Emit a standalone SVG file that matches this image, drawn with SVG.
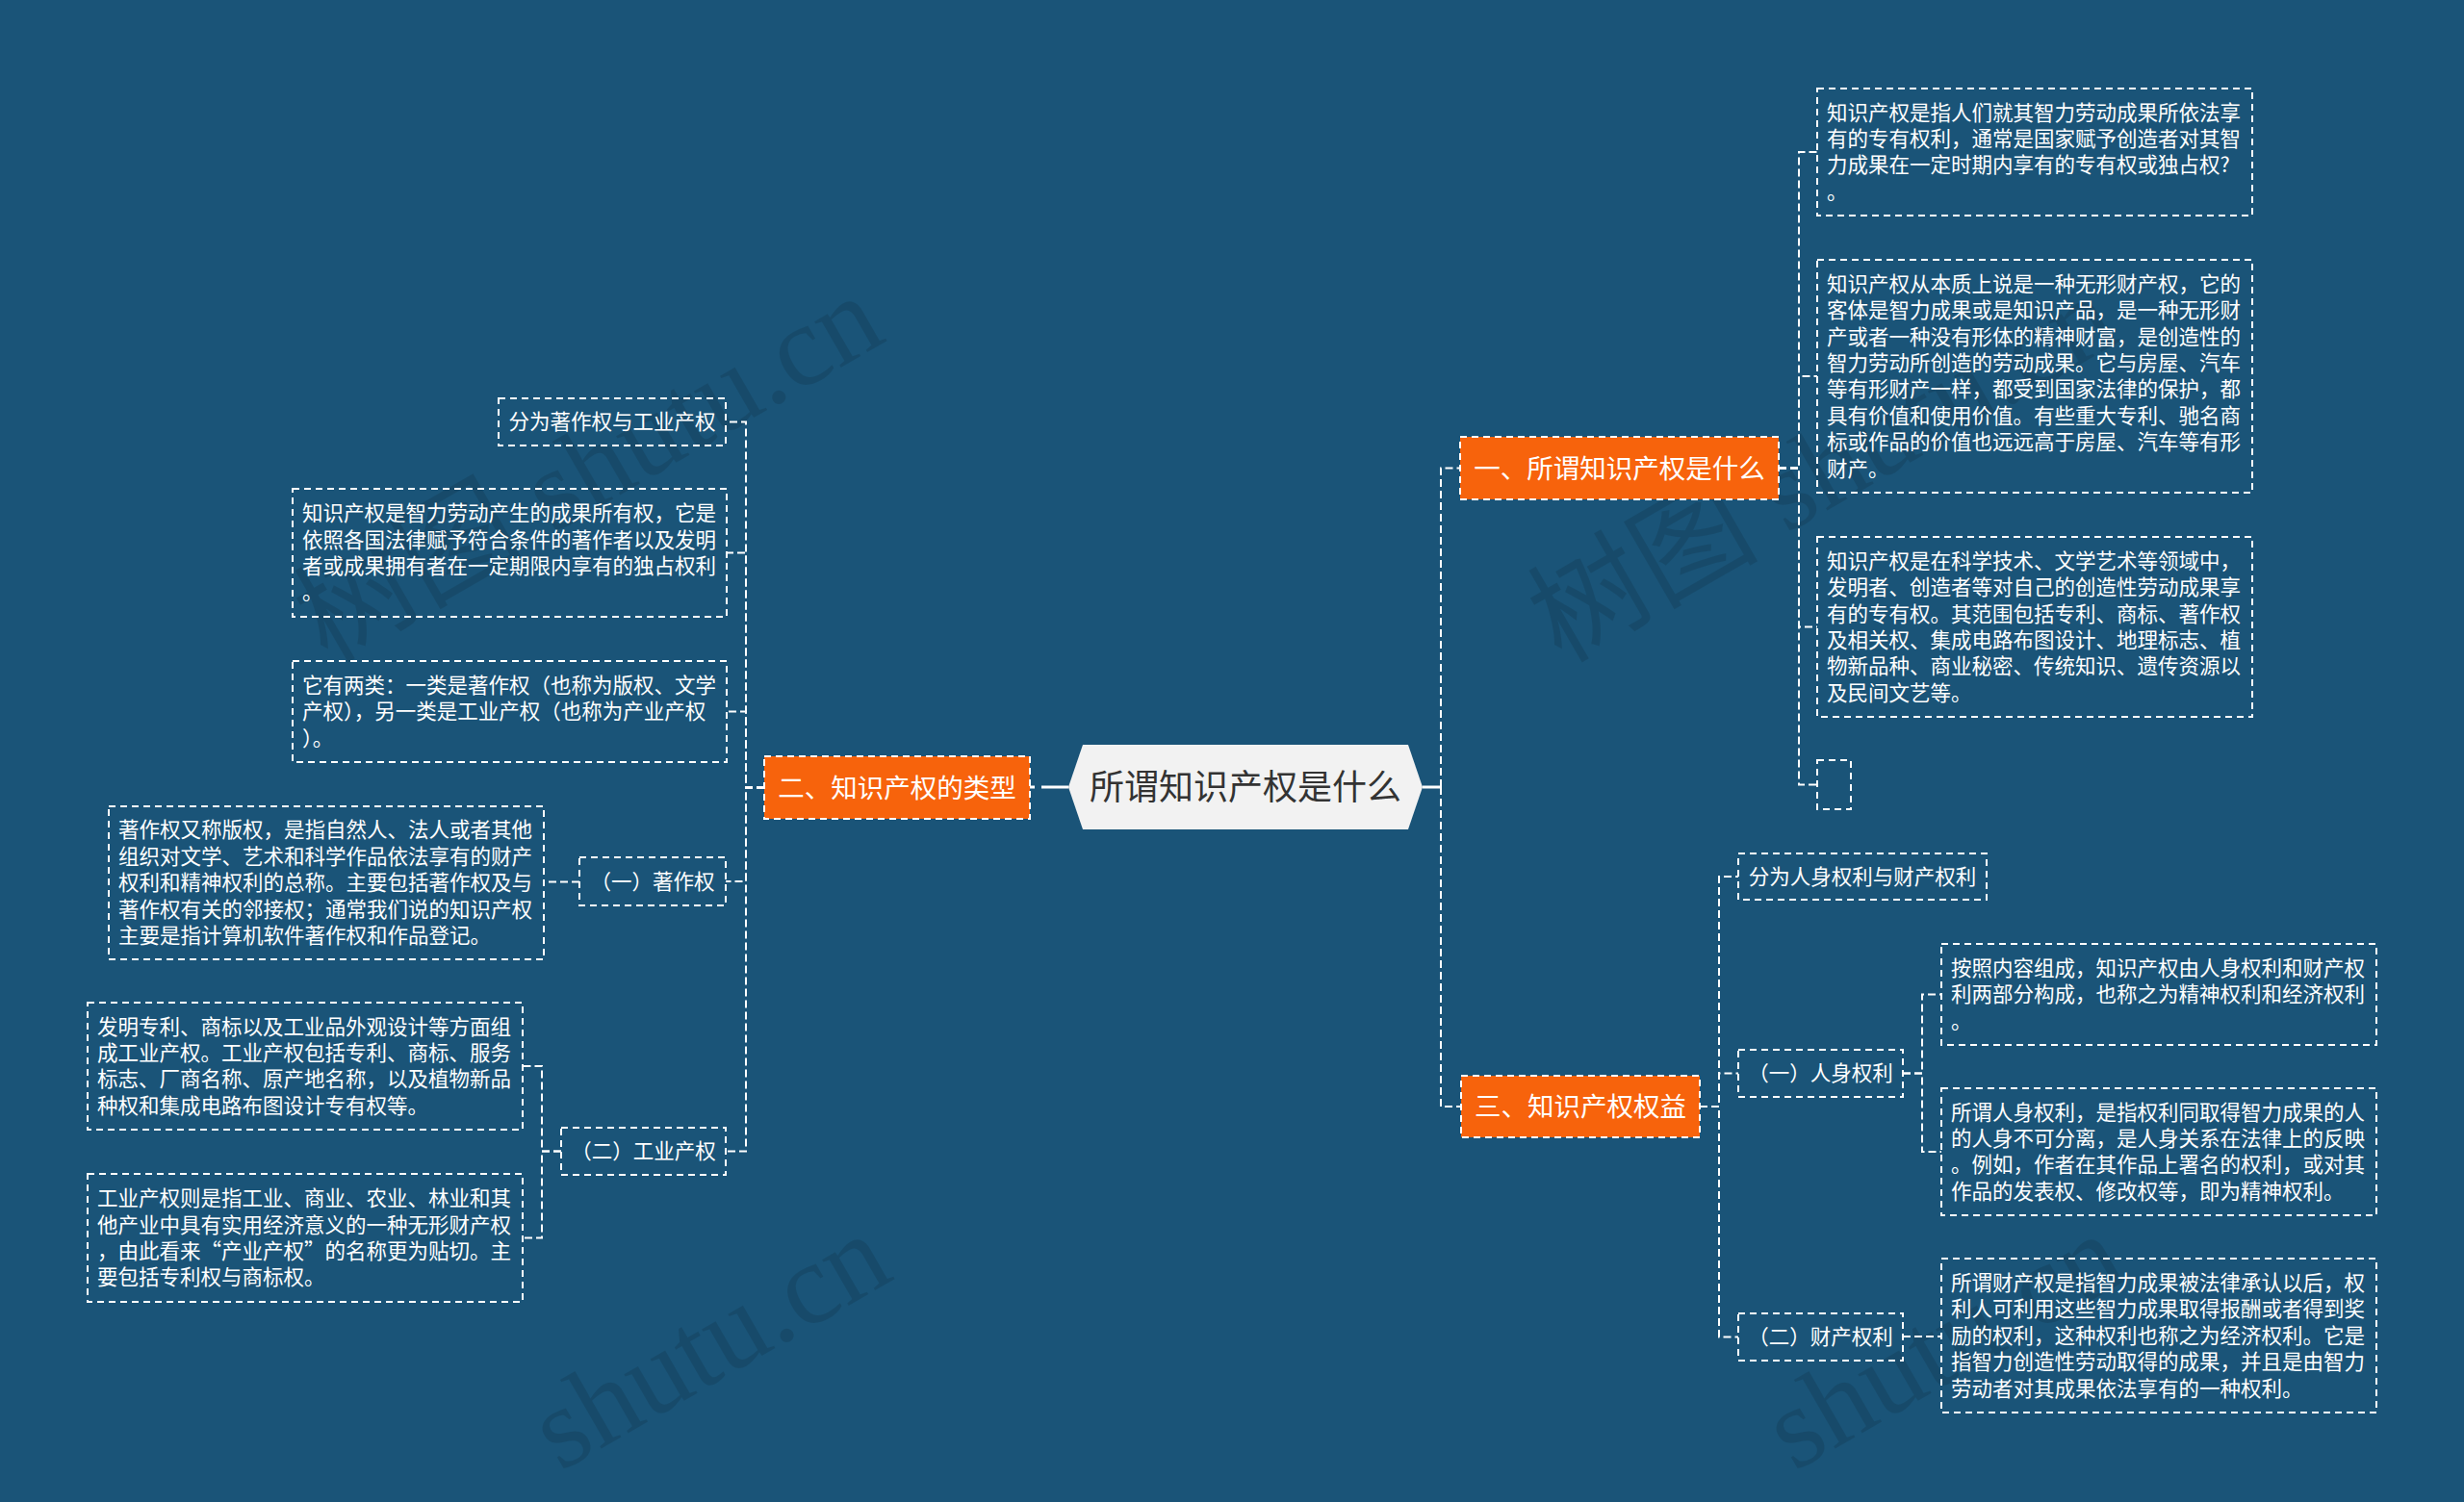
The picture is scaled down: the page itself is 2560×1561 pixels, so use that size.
<svg xmlns="http://www.w3.org/2000/svg" width="2560" height="1561" viewBox="0 0 2560 1561">
<defs>
<style>
.bg{fill:#1A5478}
.wm{font-family:"Liberation Serif","Noto Sans CJK SC",serif;font-size:120px;fill:#000;fill-opacity:0.11}
.leaf{fill:none;stroke:#FFFFFF;stroke-width:2;stroke-dasharray:7 5}
.br{fill:#F7630C;stroke:#FFFFFF;stroke-width:2;stroke-dasharray:7 5}
.root{fill:#F2F2F2}
.t{font-family:"Noto Sans CJK SC","Noto Sans CJK JP",sans-serif;font-size:21.5px;fill:#FFFFFF}
.tc{font-family:"Noto Sans CJK SC","Noto Sans CJK JP",sans-serif;font-size:21.5px;fill:#FFFFFF;text-anchor:middle}
.tb{font-family:"Noto Sans CJK SC","Noto Sans CJK JP",sans-serif;font-size:27.5px;fill:#FFFFFF;text-anchor:middle}
.tr{font-family:"Noto Sans CJK SC","Noto Sans CJK JP",sans-serif;font-size:36px;fill:#333333;text-anchor:middle}
.c{fill:none;stroke:#FFFFFF;stroke-width:2;stroke-dasharray:8 4}
.cr{fill:none;stroke:#FFFFFF;stroke-width:3}
</style>
</defs>
<rect class="bg" x="0" y="0" width="2560" height="1561"/>
<g id="watermarks">
<text class="wm" x="340" y="690" transform="rotate(-30 340 690)">树图 shutu.cn</text>
<text class="wm" x="582" y="1530" transform="rotate(-30 582 1530)">shutu.cn</text>
<text class="wm" x="1622" y="690" transform="rotate(-30 1622 690)">树图 shutu.cn</text>
<text class="wm" x="1864" y="1530" transform="rotate(-30 1864 1530)">shutu.cn</text>
</g>
<g id="connectors">
<path class="cr" d="M1110 818 H1082 M1075 818 H1070"/>
<path class="cr" d="M1478 818 H1497"/>
<path class="c" d="M1497 818 V486.5 H1517"/>
<path class="c" d="M1497 818 V1150 H1518"/>
<path class="c" d="M1848 486.5 H1869 V158 H1888"/>
<path class="c" d="M1848 486.5 H1869 V391 H1888"/>
<path class="c" d="M1848 486.5 H1869 V651.5 H1888"/>
<path class="c" d="M1848 486.5 H1869 V815.5 H1888"/>
<path class="c" d="M1766 1150 H1786 V911 H1806"/>
<path class="c" d="M1766 1150 H1786 V1115.5 H1806"/>
<path class="c" d="M1766 1150 H1786 V1389.5 H1806"/>
<path class="c" d="M1977 1115.5 H1997 V1033.5 H2017"/>
<path class="c" d="M1977 1115.5 H1997 V1197 H2017"/>
<path class="c" d="M1977 1389 H2017"/>
<path class="c" d="M794 818.5 H775 V438.5 H754"/>
<path class="c" d="M794 818.5 H775 V574.5 H755"/>
<path class="c" d="M794 818.5 H775 V739.5 H755"/>
<path class="c" d="M794 818.5 H775 V916 H754"/>
<path class="c" d="M794 818.5 H775 V1196.5 H754"/>
<path class="c" d="M602 916.5 H565"/>
<path class="c" d="M583 1196.5 H563 V1108 H543"/>
<path class="c" d="M583 1196.5 H563 V1286.5 H543"/>
</g>
<g id="root">
<polygon class="root" points="1110,818 1125,774 1463,774 1478,818 1463,862 1125,862"/>
<text class="tr" x="1294" y="831">所谓知识产权是什么</text>
</g>
<g id="branch1">
<rect class="br" x="1517" y="454" width="331" height="65"/>
<text class="tb" x="1682.5" y="496.5">一、所谓知识产权是什么</text>
</g>
<g id="branch2">
<rect class="br" x="794" y="786" width="276" height="65"/>
<text class="tb" x="932" y="828.5">二、知识产权的类型</text>
</g>
<g id="branch3">
<rect class="br" x="1518" y="1118" width="248" height="64"/>
<text class="tb" x="1642" y="1160">三、知识产权权益</text>
</g>
<g id="nodeA">
<rect class="leaf" x="1888" y="92" width="452" height="132"/>
<text class="t" x="1898"><tspan x="1898" y="124.6">知识产权是指人们就其智力劳动成果所依法享</tspan><tspan x="1898" y="152">有的专有权利，通常是国家赋予创造者对其智</tspan><tspan x="1898" y="179.4">力成果在一定时期内享有的专有权或独占权?</tspan><tspan x="1898" y="206.8">。</tspan></text>
</g>
<g id="nodeB">
<rect class="leaf" x="1888" y="270" width="452" height="242"/>
<text class="t" x="1898"><tspan x="1898" y="302.8">知识产权从本质上说是一种无形财产权，它的</tspan><tspan x="1898" y="330.2">客体是智力成果或是知识产品，是一种无形财</tspan><tspan x="1898" y="357.6">产或者一种没有形体的精神财富，是创造性的</tspan><tspan x="1898" y="385">智力劳动所创造的劳动成果。它与房屋、汽车</tspan><tspan x="1898" y="412.4">等有形财产一样，都受到国家法律的保护，都</tspan><tspan x="1898" y="439.8">具有价值和使用价值。有些重大专利、驰名商</tspan><tspan x="1898" y="467.2">标或作品的价值也远远高于房屋、汽车等有形</tspan><tspan x="1898" y="494.6">财产。</tspan></text>
</g>
<g id="nodeC">
<rect class="leaf" x="1888" y="558" width="452" height="187"/>
<text class="t" x="1898"><tspan x="1898" y="590.7">知识产权是在科学技术、文学艺术等领域中，</tspan><tspan x="1898" y="618.1">发明者、创造者等对自己的创造性劳动成果享</tspan><tspan x="1898" y="645.5">有的专有权。其范围包括专利、商标、著作权</tspan><tspan x="1898" y="672.9">及相关权、集成电路布图设计、地理标志、植</tspan><tspan x="1898" y="700.3">物新品种、商业秘密、传统知识、遗传资源以</tspan><tspan x="1898" y="727.7">及民间文艺等。</tspan></text>
</g>
<g id="nodeD">
<rect class="leaf" x="1888" y="790" width="35" height="51"/>
</g>
<g id="nodeRights">
<rect class="leaf" x="1806" y="887" width="258" height="48"/>
<text class="tc" x="1935" y="918.7">分为人身权利与财产权利</text>
</g>
<g id="nodePersonal">
<rect class="leaf" x="1806" y="1091" width="171" height="49"/>
<text class="tc" x="1891.5" y="1123.2">（一）人身权利</text>
</g>
<g id="nodeProperty">
<rect class="leaf" x="1806" y="1365" width="171" height="49"/>
<text class="tc" x="1891.5" y="1397.2">（二）财产权利</text>
</g>
<g id="nodeE">
<rect class="leaf" x="2017" y="981" width="452" height="105"/>
<text class="t" x="2027"><tspan x="2027" y="1013.8">按照内容组成，知识产权由人身权利和财产权</tspan><tspan x="2027" y="1041.2">利两部分构成，也称之为精神权利和经济权利</tspan><tspan x="2027" y="1068.6">。</tspan></text>
</g>
<g id="nodeF">
<rect class="leaf" x="2017" y="1131" width="452" height="132"/>
<text class="t" x="2027"><tspan x="2027" y="1163.6">所谓人身权利，是指权利同取得智力成果的人</tspan><tspan x="2027" y="1191">的人身不可分离，是人身关系在法律上的反映</tspan><tspan x="2027" y="1218.4">。例如，作者在其作品上署名的权利，或对其</tspan><tspan x="2027" y="1245.8">作品的发表权、修改权等，即为精神权利。</tspan></text>
</g>
<g id="nodeG">
<rect class="leaf" x="2017" y="1308" width="452" height="160"/>
<text class="t" x="2027"><tspan x="2027" y="1341">所谓财产权是指智力成果被法律承认以后，权</tspan><tspan x="2027" y="1368.4">利人可利用这些智力成果取得报酬或者得到奖</tspan><tspan x="2027" y="1395.8">励的权利，这种权利也称之为经济权利。它是</tspan><tspan x="2027" y="1423.2">指智力创造性劳动取得的成果，并且是由智力</tspan><tspan x="2027" y="1450.6">劳动者对其成果依法享有的一种权利。</tspan></text>
</g>
<g id="nodeTypes">
<rect class="leaf" x="518" y="414" width="236" height="49"/>
<text class="tc" x="636" y="446.2">分为著作权与工业产权</text>
</g>
<g id="nodeH">
<rect class="leaf" x="304" y="508" width="451" height="133"/>
<text class="t" x="314"><tspan x="314" y="541.1">知识产权是智力劳动产生的成果所有权，它是</tspan><tspan x="314" y="568.5">依照各国法律赋予符合条件的著作者以及发明</tspan><tspan x="314" y="595.9">者或成果拥有者在一定期限内享有的独占权利</tspan><tspan x="314" y="623.3">。</tspan></text>
</g>
<g id="nodeI">
<rect class="leaf" x="304" y="687" width="451" height="105"/>
<text class="t" x="314"><tspan x="314" y="719.8">它有两类：一类是著作权（也称为版权、文学</tspan><tspan x="314" y="747.2">产权），另一类是工业产权（也称为产业产权</tspan><tspan x="314" y="774.6">）。</tspan></text>
</g>
<g id="nodeCopyright">
<rect class="leaf" x="602" y="891" width="152" height="50"/>
<text class="tc" x="678" y="923.7">（一）著作权</text>
</g>
<g id="nodeJ">
<rect class="leaf" x="113" y="838" width="452" height="159"/>
<text class="t" x="123"><tspan x="123" y="870.4">著作权又称版权，是指自然人、法人或者其他</tspan><tspan x="123" y="897.8">组织对文学、艺术和科学作品依法享有的财产</tspan><tspan x="123" y="925.2">权利和精神权利的总称。主要包括著作权及与</tspan><tspan x="123" y="952.6">著作权有关的邻接权；通常我们说的知识产权</tspan><tspan x="123" y="980">主要是指计算机软件著作权和作品登记。</tspan></text>
</g>
<g id="nodeIndustrial">
<rect class="leaf" x="583" y="1172" width="171" height="49"/>
<text class="tc" x="668.5" y="1204.2">（二）工业产权</text>
</g>
<g id="nodeK">
<rect class="leaf" x="91" y="1042" width="452" height="132"/>
<text class="t" x="101"><tspan x="101" y="1074.6">发明专利、商标以及工业品外观设计等方面组</tspan><tspan x="101" y="1102">成工业产权。工业产权包括专利、商标、服务</tspan><tspan x="101" y="1129.4">标志、厂商名称、原产地名称，以及植物新品</tspan><tspan x="101" y="1156.8">种权和集成电路布图设计专有权等。</tspan></text>
</g>
<g id="nodeL">
<rect class="leaf" x="91" y="1220" width="452" height="133"/>
<text class="t" x="101"><tspan x="101" y="1253.1">工业产权则是指工业、商业、农业、林业和其</tspan><tspan x="101" y="1280.5">他产业中具有实用经济意义的一种无形财产权</tspan><tspan x="101" y="1307.9">，由此看来“产业产权”的名称更为贴切。主</tspan><tspan x="101" y="1335.3">要包括专利权与商标权。</tspan></text>
</g>
</svg>
